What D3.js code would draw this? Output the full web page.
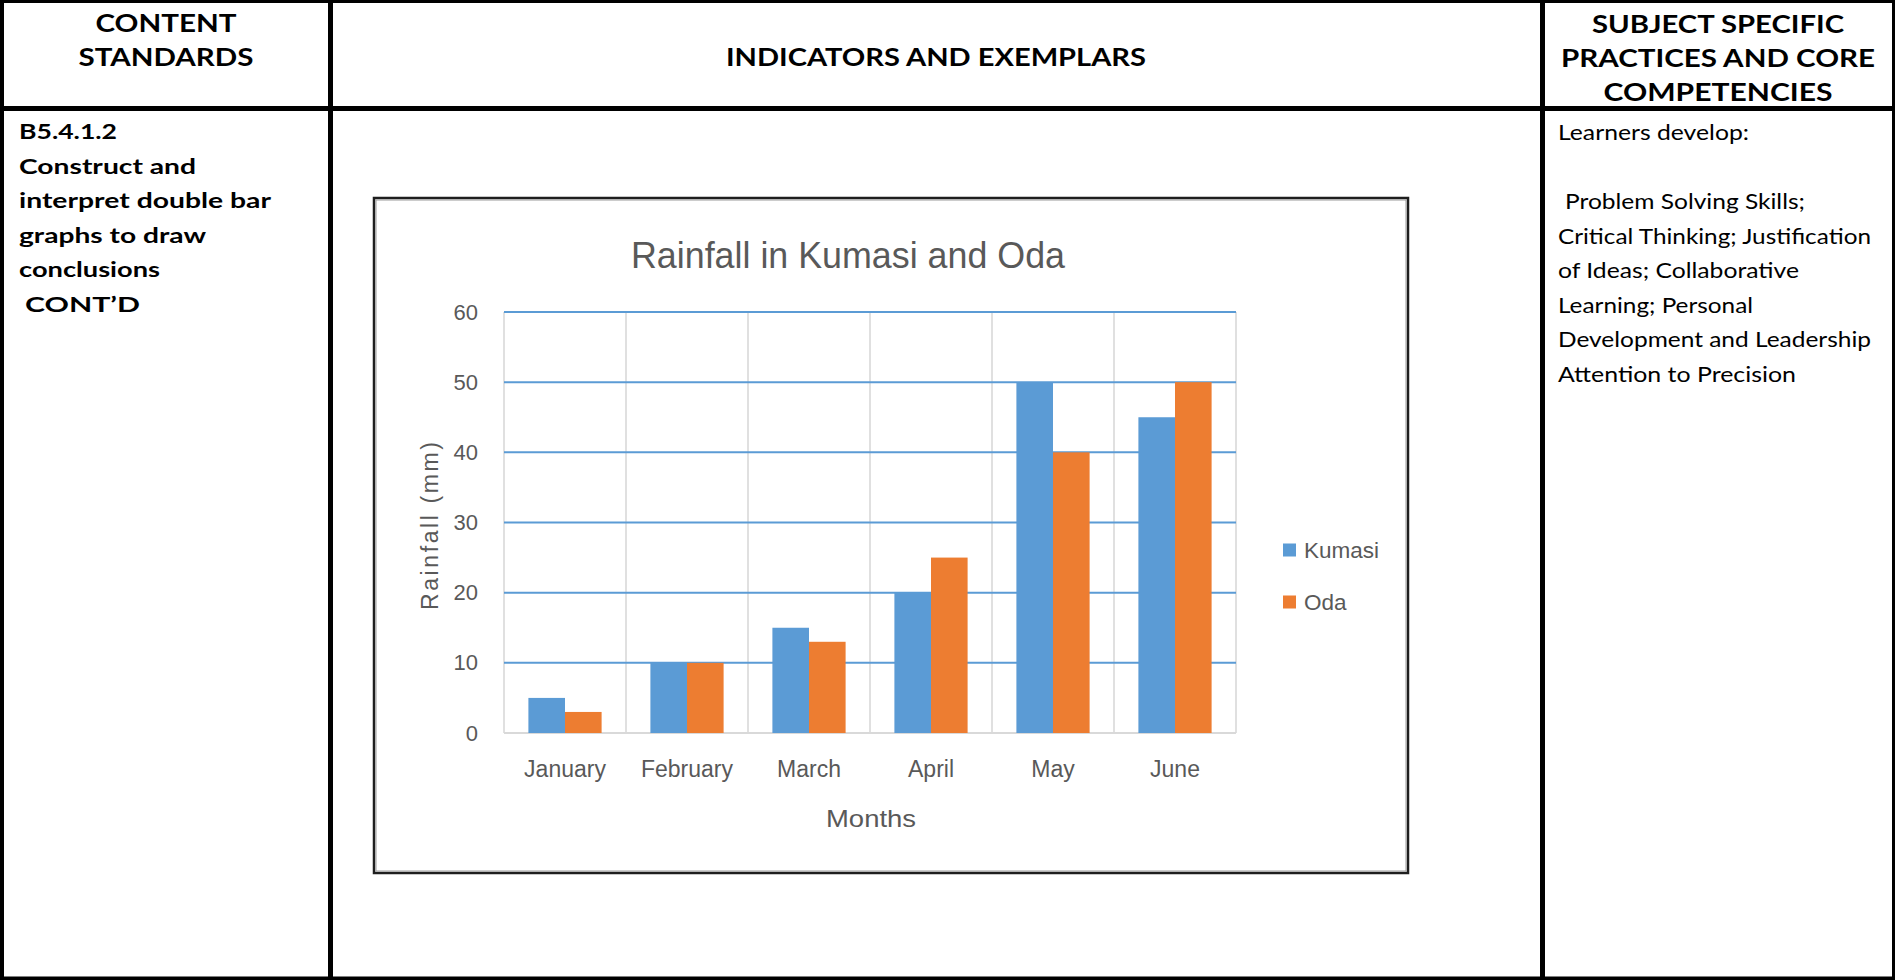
<!DOCTYPE html>
<html>
<head>
<meta charset="utf-8">
<script src="https://cdn.jsdelivr.net/npm/d3@7"></script>
<style>
  html, body { margin: 0; padding: 0; background: #fff; overflow: hidden; }
  svg { display: block; }
</style>
</head>
<body>
<svg id="page" width="1895" height="980"></svg>
<script>
// ---- chart data ----
const months = ["January", "February", "March", "April", "May", "June"];
const kumasiRain = [5, 10, 15, 20, 50, 45];
const odaRain = [3, 10, 13, 25, 40, 50];
const seriesNames = ["Kumasi", "Oda"];
const seriesColors = ["#5B9BD5", "#ED7D31"];
const yTickValues = [0, 10, 20, 30, 40, 50, 60];
const chartTitle = "Rainfall in Kumasi and Oda";
const xAxisTitle = "Months";
const yAxisTitle = "Rainfall (mm)";

// ---- table text ----
const headerStandards = ["CONTENT", "STANDARDS"];
const headerIndicators = ["INDICATORS AND EXEMPLARS"];
const headerPractices = ["SUBJECT SPECIFIC", "PRACTICES AND CORE", "COMPETENCIES"];
const standardLines = ["B5.4.1.2", "Construct and", "interpret double bar", "graphs to draw", "conclusions", "CONT\u2019D"];
const competencyLines = ["Learners develop:", "", "Problem Solving Skills;", "Critical Thinking; Justification",
  "of Ideas; Collaborative", "Learning; Personal", "Development and Leadership", "Attention to Precision"];

const svg = d3.select("#page");
const W = 1895, H = 980;
const tableFont = "Lato, 'Open Sans', sans-serif";
const chartFont = "'Liberation Sans', Arial, sans-serif";
const grey = "#595959";

// ---- table frame ----
const frame = svg.append("g").attr("fill", "#000");
[
  [0, 0, W, 3],        // top edge
  [0, 0, 4, H],        // left edge
  [W - 3, 0, 3, H],    // right edge
  [0, 976.5, W, 3.5],  // bottom edge
  [0, 106, W, 5],      // header rule
  [328, 0, 5, H],      // first column rule
  [1540, 0, 5, H]      // last column rule
].forEach(([x, y, w, h]) => frame.append("rect").attr("x", x).attr("y", y).attr("width", w).attr("height", h));

function putText(g, str, x, y, size, weight, anchor, len, fam) {
  const t = g.append("text")
    .attr("x", x).attr("y", y)
    .attr("font-family", fam || tableFont)
    .attr("font-size", size)
    .attr("font-weight", weight)
    .attr("text-anchor", anchor)
    .attr("fill", "#000")
    .text(str);
  if (len) t.attr("textLength", len).attr("lengthAdjust", "spacingAndGlyphs");
  return t;
}

const tbl = svg.append("g");
// header cells
const stdWidths = [141, 175];
headerStandards.forEach((s, i) => putText(tbl, s, 166, 32 + i * 33.5, 25, 700, "middle", stdWidths[i]));
putText(tbl, headerIndicators[0], 936, 66, 25, 700, "middle", 420);
const pracWidths = [252, 314, 229];
headerPractices.forEach((s, i) => putText(tbl, s, 1718, 32.5 + i * 34, 25, 700, "middle", pracWidths[i]));

// left column body
const stdBodyWidths = [98, 177, 252, 187, 141, 115];
standardLines.forEach((s, i) => {
  const x = i === standardLines.length - 1 ? 25 : 19;
  putText(tbl, s, x, 139 + i * 34.5, 21.5, 700, "start", stdBodyWidths[i]);
});

// right column body
const compWidths = [191, 0, 240, 313, 241, 195, 313, 238];
competencyLines.forEach((s, i) => {
  if (!s) return;
  const x = i === 2 ? 1565 : 1558;
  putText(tbl, s, x, 140 + i * 34.5, 20.5, 400, "start", compWidths[i]);
});

// ---- chart box ----
const box = svg.append("g");
box.append("rect").attr("x", 374).attr("y", 198).attr("width", 1034).attr("height", 675)
  .attr("fill", "#fff").attr("stroke", "#1e1e1e").attr("stroke-width", 2.5);
box.append("rect").attr("x", 376).attr("y", 200).attr("width", 1030).attr("height", 671)
  .attr("fill", "none").attr("stroke", "#9a9a9a").attr("stroke-width", 1);

// ---- scales ----
const plot = { left: 504, right: 1236, top: 312, bottom: 733 };
const x = d3.scaleBand().domain(months).range([plot.left, plot.right]).paddingInner(0.4).paddingOuter(0.2);
const xs = d3.scaleBand().domain(seriesNames).range([0, x.bandwidth()]);
const y = d3.scaleLinear().domain([0, 60]).range([plot.bottom, plot.top]);

const chart = svg.append("g");

// vertical category dividers
const dividers = d3.range(months.length + 1).map(i => x.range()[0] + i * x.step());
chart.append("g").selectAll("line").data(dividers).join("line")
  .attr("x1", d => d).attr("x2", d => d)
  .attr("y1", plot.top).attr("y2", plot.bottom)
  .attr("stroke", "#d9d9d9").attr("stroke-width", 1.6);

// horizontal gridlines
chart.append("g").selectAll("line").data(yTickValues.filter(v => v > 0)).join("line")
  .attr("x1", plot.left).attr("x2", plot.right)
  .attr("y1", d => y(d)).attr("y2", d => y(d))
  .attr("stroke", "#5B9BD5").attr("stroke-width", 2);
chart.append("line")
  .attr("x1", plot.left).attr("x2", plot.right)
  .attr("y1", y(0)).attr("y2", y(0))
  .attr("stroke", "#d9d9d9").attr("stroke-width", 2);

// bars
const rows = months.map((m, i) => ({ month: m, values: [kumasiRain[i], odaRain[i]] }));
const groups = chart.append("g").selectAll("g").data(rows).join("g")
  .attr("transform", d => `translate(${x(d.month)},0)`);
groups.selectAll("rect")
  .data(d => d.values.map((v, k) => ({ key: seriesNames[k], value: v, color: seriesColors[k] })))
  .join("rect")
  .attr("x", d => xs(d.key))
  .attr("width", xs.bandwidth())
  .attr("y", d => y(d.value))
  .attr("height", d => y(0) - y(d.value))
  .attr("fill", d => d.color);

// y axis labels
const yAxis = chart.append("g").attr("transform", `translate(${plot.left},0)`)
  .call(d3.axisLeft(y).tickValues(yTickValues).tickSize(0).tickPadding(26).tickFormat(d3.format("d")));
yAxis.select(".domain").remove();
yAxis.selectAll("text").attr("font-family", chartFont).attr("font-size", 22).attr("fill", grey);

// x axis labels
const xAxis = chart.append("g").attr("transform", `translate(0,${plot.bottom})`)
  .call(d3.axisBottom(x).tickSize(0));
xAxis.select(".domain").remove();
xAxis.selectAll("text").attr("y", 44).attr("dy", 0)
  .attr("font-family", chartFont).attr("font-size", 23).attr("fill", grey);

// titles
chart.append("text").attr("x", 848).attr("y", 268).attr("text-anchor", "middle")
  .attr("font-family", chartFont).attr("font-size", 36).attr("fill", grey)
  .attr("textLength", 434).attr("lengthAdjust", "spacingAndGlyphs")
  .text(chartTitle);
chart.append("text").attr("x", 871).attr("y", 827).attr("text-anchor", "middle")
  .attr("font-family", chartFont).attr("font-size", 24).attr("fill", grey)
  .attr("textLength", 90).attr("lengthAdjust", "spacingAndGlyphs")
  .text(xAxisTitle);
chart.append("text").attr("transform", "translate(438,526) rotate(-90)").attr("text-anchor", "middle")
  .attr("font-family", chartFont).attr("font-size", 23).attr("fill", grey)
  .attr("textLength", 168).attr("lengthAdjust", "spacing")
  .text(yAxisTitle);

// legend
const legendY = [550, 602];
const legend = chart.append("g").selectAll("g").data(seriesNames).join("g")
  .attr("transform", (d, i) => `translate(1283,${legendY[i]})`);
legend.append("rect").attr("x", 0).attr("y", -6.5).attr("width", 13).attr("height", 13)
  .attr("fill", (d, i) => seriesColors[i]);
legend.append("text").attr("x", 21).attr("dy", "0.36em")
  .attr("font-family", chartFont).attr("font-size", 22.5).attr("fill", grey)
  .text(d => d);
</script>
</body>
</html>
